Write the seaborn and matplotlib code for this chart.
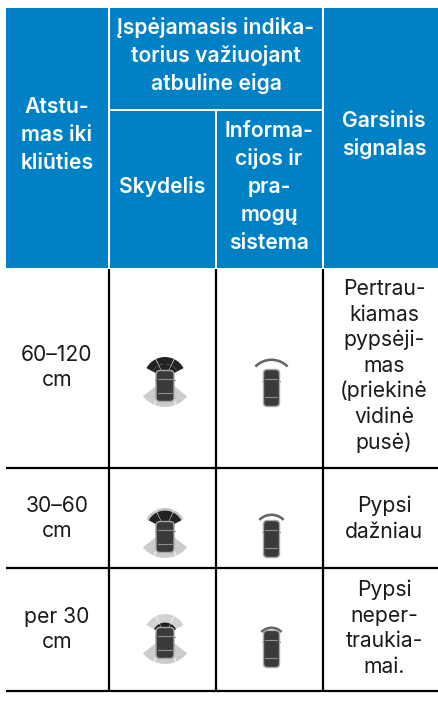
import numpy as np
import matplotlib.pyplot as plt
from matplotlib.patches import Rectangle, Wedge, FancyBboxPatch
import seaborn as sns

# table text
header_dist = ["Atstu-", "mas iki", "kliūties"]
header_warn = ["Įspėjamasis indika-", "torius važiuojant", "atbuline eiga"]
header_panel = ["Skydelis"]
header_info = ["Informa-", "cijos ir", "pra-", "mogų", "sistema"]
header_sound = ["Garsinis", "signalas"]

distances = [["60–120", "cm"], ["30–60", "cm"], ["per 30", "cm"]]
sounds = [["Pertrau-", "kiamas", "pypsėji-", "mas", "(priekinė", "vidinė", "pusė)"],
          ["Pypsi", "dažniau"],
          ["Pypsi", "neper-", "traukia-", "mai."]]
dist_base = [361, 512, 623]
sound_base = [295, 512, 596]

# pixel layout
col_edges = [6, 109, 216, 323, 439]
row_lines = [468, 568, 691]
panel_car_y = [386, 537, 643]
info_car_y = [388, 539, 649]
arc_gap = [11, 7, 4]
arc_span = [17, 13, 11]
front_split = [14, 18.5, 12.5]
front_outer = ["#222222", "#c4c4c4", "#d2d2d2"]

BLUE = "#0081c6"
FRONT_DARK = "#222222"

sns.set_theme(style="white")
plt.rcParams["font.family"] = ["Inter", "DejaVu Sans"]

fig = plt.figure(figsize=(4.39, 7.06), dpi=100)
ax = fig.add_axes([0, 0, 1, 1])
ax.set_xlim(0, 439)
ax.set_ylim(706, 0)
ax.axis("off")


def block(lines, cx, base, pitch, size, color, weight):
    for i, s in enumerate(lines):
        ax.text(cx, base + i * pitch, s, ha="center", va="baseline",
                fontsize=size, color=color, fontweight=weight)


def car(cx, cy, w, h):
    ax.add_patch(FancyBboxPatch((cx - w / 2 + 4, cy - h / 2 + 4), w - 8, h - 8,
                                boxstyle="round,pad=4", fc="#3a3a3a", ec="#a8a8a8", lw=1.0, zorder=3))
    for f in [0.27, 0.74]:
        ax.plot([cx - w / 2 + 2, cx + w / 2 - 2], [cy - h / 2 + f * h] * 2, color="#8f8f8f", lw=0.8, zorder=4)
    ax.plot([cx - w / 2 - 1, cx + w / 2 + 1], [cy - h / 2 + 0.3 * h] * 2, color="#808080", lw=0.8, zorder=2)


def panel_icon(cy, outer, split):
    cx = 165
    # rear sectors, always light
    for a1, a2 in [(38, 66), (68, 112), (114, 142)]:
        ax.add_patch(Wedge((cx, cy - 7), 28, a1, a2, width=16, fc="#cccccc", ec="none", zorder=1))
    # front sectors, outer and inner ring
    for a1, a2 in [(208, 243), (245, 295), (297, 332)]:
        ax.add_patch(Wedge((cx, cy - 8), 21, a1, a2, width=21 - split, fc=outer, ec="none", zorder=1))
        ax.add_patch(Wedge((cx, cy - 8), split, a1, a2, width=split - 6, fc=FRONT_DARK, ec="none", zorder=1))
    car(cx, cy, 18, 31)


def info_icon(cy, gap, span):
    cx = 271.5
    car(cx, cy, 16, 37)
    r = span * 1.4
    top = cy - 18.5 - gap
    half = np.degrees(np.arcsin(span / r))
    ax.add_patch(Wedge((cx, top + r), r, 270 - half, 270 + half, width=2.6, fc="#666666", ec="none", zorder=1))


# blue header
for x0, x1 in [(6, 108), (324, 439)]:
    ax.add_patch(Rectangle((x0, 8), x1 - x0, 260, fc=BLUE, ec="none"))
ax.add_patch(Rectangle((110, 8), 212, 101, fc=BLUE, ec="none"))
ax.add_patch(Rectangle((110, 111), 105, 157, fc=BLUE, ec="none"))
ax.add_patch(Rectangle((217, 111), 105, 157, fc=BLUE, ec="none"))

block(header_dist, 57, 113, 28, 15.2, "white", "semibold")
block(header_warn, 216, 34, 28, 15.2, "white", "semibold")
block(header_panel, 162, 193, 28, 15.2, "white", "semibold")
block(header_info, 269, 137, 28, 15.2, "white", "semibold")
block(header_sound, 384, 127, 28, 15.2, "white", "semibold")

# rules
for x in col_edges[1:4]:
    ax.plot([x, x], [269, row_lines[-1]], color="black", lw=1.6, solid_capstyle="butt")
for y in row_lines:
    ax.plot([col_edges[0], col_edges[-1]], [y, y], color="black", lw=1.6, solid_capstyle="butt")

for i in range(3):
    block(distances[i], 57, dist_base[i], 25.4, 15.2, "#1a1a1a", "normal")
    block(sounds[i], 384, sound_base[i], 25.6, 15.2, "#1a1a1a", "normal")
    panel_icon(panel_car_y[i], front_outer[i], front_split[i])
    info_icon(info_car_y[i], arc_gap[i], arc_span[i])

fig.savefig("out.png", dpi=100)
